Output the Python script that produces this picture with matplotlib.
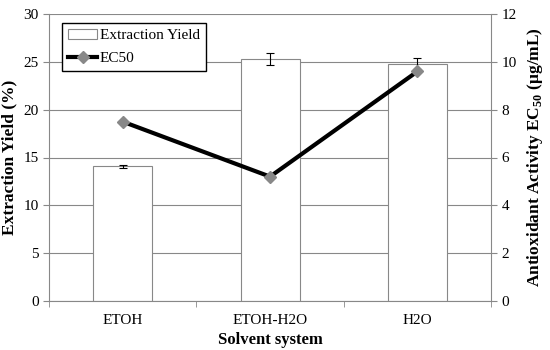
import matplotlib
matplotlib.use("Agg")
import matplotlib.pyplot as plt
import numpy as np

plt.rcParams['font.family'] = ['Liberation Serif', 'DejaVu Serif']
plt.rcParams['mathtext.fontset'] = 'custom'
plt.rcParams['mathtext.rm'] = 'Liberation Serif'
plt.rcParams['mathtext.bf'] = 'Liberation Serif:bold'

solvents = ["ETOH", "ETOH-H2O", "H2O"]
yield_pct = [14.1, 25.3, 24.8]
yield_err = [0.15, 0.6, 0.6]
ec50 = [7.5, 5.2, 9.6]

grid_col = '#888888'

fig = plt.figure(figsize=(5.5, 3.5), dpi=100)
ax = fig.add_axes([0.089, 0.14, 0.804, 0.82])
x = np.arange(len(solvents))

ax.bar(x, yield_pct, width=0.4, color='white', edgecolor=grid_col, linewidth=0.8,
       yerr=yield_err, error_kw=dict(ecolor='black', elinewidth=0.8, capsize=3, capthick=0.8),
       label='Extraction Yield', zorder=2)
ax.set_ylim(0, 30)
ax.set_yticks(range(0, 31, 5))
ax.set_xlim(-0.5, 2.5)
ax.set_xticks(x)
ax.set_xticklabels(solvents)
ax.set_xticks([-0.5, 0.5, 1.5, 2.5], minor=True)
ax.tick_params(axis='x', which='major', length=0, pad=9, labelsize=11)
ax.tick_params(axis='x', which='minor', length=4, color=grid_col)
ax.tick_params(axis='y', length=4, color=grid_col, labelsize=11)
ax.yaxis.grid(True, color=grid_col, linewidth=0.8, zorder=0)
ax.set_axisbelow(True)
for s in ['top', 'right']:
    ax.spines[s].set_visible(False)
for s in ['left', 'bottom']:
    ax.spines[s].set_color(grid_col)
ax.set_xlabel("Solvent system", fontsize=12, fontweight='bold', labelpad=4)
ax.set_ylabel("Extraction Yield (%)", fontsize=12.5, fontweight='bold', labelpad=4)

ax2 = ax.twinx()
ax2.plot(x, ec50, color='black', linewidth=3, marker='D', markersize=6,
         markerfacecolor='#888888', markeredgecolor='#888888', label='EC50', zorder=3)
ax2.set_ylim(0, 12)
ax2.set_yticks(range(0, 13, 2))
ax2.tick_params(axis='y', length=4, color=grid_col, labelsize=11)
for s in ['top', 'left', 'bottom']:
    ax2.spines[s].set_visible(False)
ax2.spines['right'].set_color(grid_col)
ax2.set_ylabel(r"Antioxidant Activity EC$_{\mathbf{50}}$ (μg/mL)",
               fontsize=12.5, fontweight='bold', labelpad=6)

h1, l1 = ax.get_legend_handles_labels()
h2, l2 = ax2.get_legend_handles_labels()
leg = ax2.legend(h1 + h2, l1 + l2, loc='upper left', bbox_to_anchor=(0.03, 0.97),
                 fancybox=False, edgecolor='black', framealpha=1, fontsize=11,
                 handlelength=1.9, borderpad=0.4, labelspacing=0.6, handletextpad=0.15,
                 borderaxespad=0)
leg.get_frame().set_linewidth(1.0)

fig.savefig("out.png", dpi=100)
